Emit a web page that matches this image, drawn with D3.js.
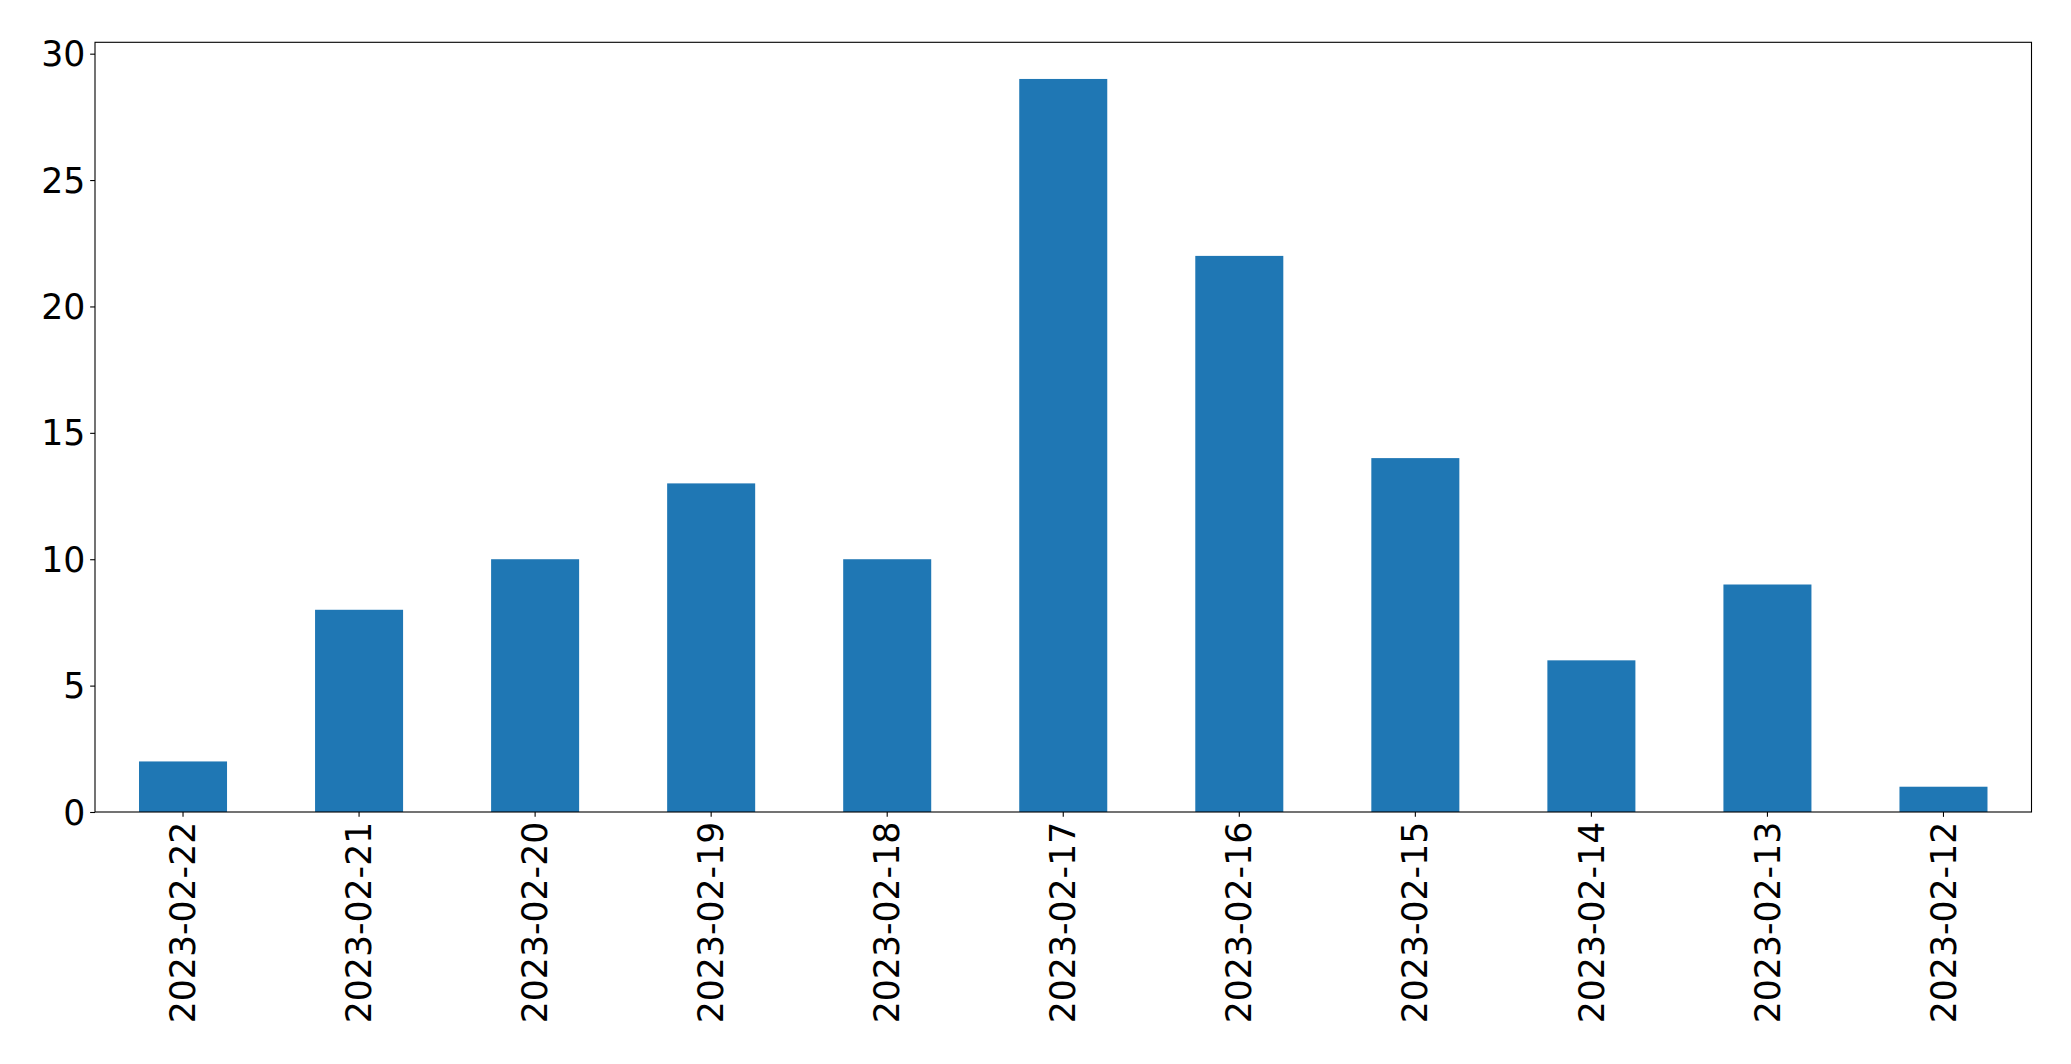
<!DOCTYPE html>
<html>
<head>
<meta charset="utf-8">
<script src="https://cdn.jsdelivr.net/npm/d3@7"></script>
<style>
  html, body { margin: 0; padding: 0; background: #fff; }
  svg { display: block; }
</style>
</head>
<body>
<script>
const categories = ["2023-02-22","2023-02-21","2023-02-20","2023-02-19","2023-02-18","2023-02-17","2023-02-16","2023-02-15","2023-02-14","2023-02-13","2023-02-12"];
const values = [2, 8, 10, 13, 10, 29, 22, 14, 6, 9, 1];
const yTicks = [0, 5, 10, 15, 20, 25, 30];

const W = 2071, H = 1064;
const mLeft = 95, mRight = 2031.5, mTop = 42.3, mBottom = 812;
const fontSize = 34.7;
const tickLen = 4.86, pad = 4.86;

const svg = d3.select("body").append("svg").attr("width", W).attr("height", H);

const x = d3.scaleBand().domain(categories).range([mLeft, mRight]).paddingInner(0.5).paddingOuter(0.25);
const y = d3.scaleLinear().domain([0, 30.45]).range([mBottom, mTop]);

svg.append("g").selectAll("rect").data(values).join("rect")
  .attr("x", (d, i) => x(categories[i]))
  .attr("width", x.bandwidth())
  .attr("y", d => y(d))
  .attr("height", d => y(0) - y(d))
  .attr("fill", "#1f77b4");

const yAxis = svg.append("g").attr("transform", `translate(${mLeft},0)`)
  .call(d3.axisLeft(y).tickValues(yTicks).tickSize(tickLen).tickPadding(pad).tickFormat(d3.format("d")));
yAxis.select(".domain").remove();
yAxis.selectAll(".tick line").attr("stroke", "#000").attr("stroke-width", 1.1);
yAxis.selectAll(".tick text").attr("font-family", "DejaVu Sans").attr("font-size", fontSize).attr("fill", "#000")
  .attr("dy", "0.35em");

const xAxis = svg.append("g").attr("transform", `translate(0,${mBottom})`)
  .call(d3.axisBottom(x).tickSize(tickLen).tickPadding(pad));
xAxis.select(".domain").remove();
xAxis.selectAll(".tick line").attr("stroke", "#000").attr("stroke-width", 1.1);
xAxis.selectAll(".tick text")
  .attr("font-family", "DejaVu Sans").attr("font-size", fontSize).attr("fill", "#000")
  .attr("transform", `translate(0,${tickLen + pad}) rotate(-90)`)
  .attr("x", 0).attr("y", 0).attr("dy", "0.35em")
  .attr("text-anchor", "end");

svg.append("rect")
  .attr("x", mLeft).attr("y", mTop)
  .attr("width", mRight - mLeft).attr("height", mBottom - mTop)
  .attr("fill", "none").attr("stroke", "#000").attr("stroke-width", 1.1);
</script>
</body>
</html>
